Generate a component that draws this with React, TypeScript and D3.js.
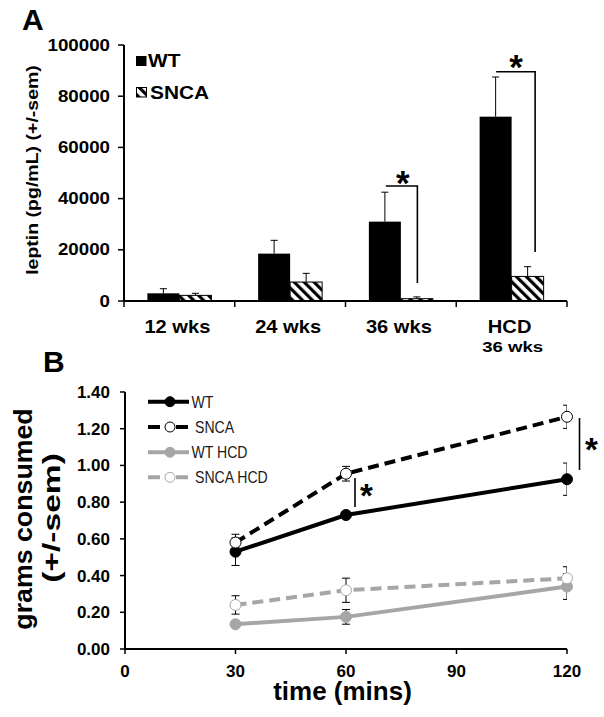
import React from "react";
import * as d3 from "d3";

// ---------- Panel A data ----------
const categoriesA = ["12 wks", "24 wks", "36 wks", "HCD"];
const wtLeptin = [3000, 18500, 31000, 72000];
const wtLeptinErr = [1800, 5200, 11500, 15500];
const sncaLeptin = [2200, 7400, 900, 9600];
const sncaLeptinErr = [800, 3400, 700, 3800];
const yTicksA = [0, 20000, 40000, 60000, 80000, 100000];

// ---------- Panel B data ----------
const timesB = [30, 60, 120];
const xTicksB = [0, 30, 60, 90, 120];
const yTicksB = [0, 0.2, 0.4, 0.6, 0.8, 1.0, 1.2, 1.4];
const wtB = [0.53, 0.73, 0.925];
const wtBErr = [0.075, 0.01, 0.088];
const sncaB = [0.58, 0.955, 1.265];
const sncaBErr = [0.045, 0.04, 0.063];
const wtHcdB = [0.135, 0.175, 0.34];
const wtHcdBErr = [0.01, 0.04, 0.07];
const sncaHcdB = [0.24, 0.32, 0.385];
const sncaHcdBErr = [0.05, 0.066, 0.063];

const FONT = "'Liberation Sans', Arial, sans-serif";

function T({ x, y, size, sx = 1, anchor = "start", rot = 0, weight = "bold", fill = "#000", family = FONT, children }: any) {
  return (
    <text
      transform={`translate(${x},${y}) rotate(${rot}) scale(${sx},1)`}
      fontSize={size}
      fontWeight={weight}
      fontFamily={family}
      textAnchor={anchor}
      fill={fill}
    >
      {children}
    </text>
  );
}

export default function App() {
  // Panel A scales
  const xA = d3.scaleBand<string>().domain(categoriesA).range([124, 567]).padding(0);
  const yA = d3.scaleLinear().domain([0, 100000]).range([301, 45]);
  const barW = 32;
  const cx = (c: string) => (xA(c) as number) + xA.bandwidth() / 2;

  // Panel B scales
  const xB = d3.scaleLinear().domain([0, 120]).range([125, 567]);
  const yB = d3.scaleLinear().domain([0, 1.4]).range([649, 392]);

  const seriesB = [
    { name: "WT", vals: wtB, err: wtBErr, color: "#000", dash: "none", open: false },
    { name: "SNCA", vals: sncaB, err: sncaBErr, color: "#000", dash: "11,6", open: true },
    { name: "WT HCD", vals: wtHcdB, err: wtHcdBErr, color: "#a6a6a6", dash: "none", open: false },
    { name: "SNCA HCD", vals: sncaHcdB, err: sncaHcdBErr, color: "#a6a6a6", dash: "11,6", open: true },
  ];
  const line = d3.line<[number, number]>().x((d) => xB(d[0])).y((d) => yB(d[1]));

  return (
    <svg width={604} height={717} style={{ position: "absolute", left: 0, top: 0, background: "#fff" }}>
      <defs>
        <pattern id="hatch" patternUnits="userSpaceOnUse" width={7} height={7} patternTransform="rotate(-45)">
          <rect width={7} height={7} fill="#fff" />
          <rect width={3.2} height={7} fill="#000" />
        </pattern>
        <clipPath id="clipB">
          <rect x={125} y={370} width={442} height={290} />
        </clipPath>
      </defs>
      <rect width={604} height={717} fill="#fff" />

      {/* ================= Panel A ================= */}
      <T x={22} y={30} size={30}>A</T>
      <T x={38} y={170} size={16} sx={1.22} rot={-90} anchor="middle">leptin (pg/mL) (+/-sem)</T>

      {/* y axis */}
      <line x1={124} x2={124} y1={yA(100000)} y2={yA(0)} stroke="#000" strokeWidth={2} />
      {yTicksA.map((t) => (
        <g key={t}>
          <line x1={118} x2={124} y1={yA(t)} y2={yA(t)} stroke="#000" strokeWidth={1.5} />
          <T x={110} y={yA(t) + 5.5} size={16} sx={1.17} anchor="end">{String(t)}</T>
        </g>
      ))}

      {/* bars */}
      {categoriesA.map((c, i) => {
        const c0 = cx(c);
        return (
          <g key={c}>
            <rect x={c0 - barW} y={yA(wtLeptin[i])} width={barW} height={yA(0) - yA(wtLeptin[i])} fill="#000" />
            <rect x={c0} y={yA(sncaLeptin[i])} width={barW} height={yA(0) - yA(sncaLeptin[i])} fill="url(#hatch)" stroke="#000" strokeWidth={1} />
            {/* error bars */}
            <line x1={c0 - barW / 2} x2={c0 - barW / 2} y1={yA(wtLeptin[i])} y2={yA(wtLeptin[i] + wtLeptinErr[i])} stroke="#000" strokeWidth={1} />
            <line x1={c0 - barW / 2 - 3.5} x2={c0 - barW / 2 + 3.5} y1={yA(wtLeptin[i] + wtLeptinErr[i])} y2={yA(wtLeptin[i] + wtLeptinErr[i])} stroke="#000" strokeWidth={1} />
            <line x1={c0 + barW / 2} x2={c0 + barW / 2} y1={yA(sncaLeptin[i])} y2={yA(sncaLeptin[i] + sncaLeptinErr[i])} stroke="#000" strokeWidth={1} />
            <line x1={c0 + barW / 2 - 3.5} x2={c0 + barW / 2 + 3.5} y1={yA(sncaLeptin[i] + sncaLeptinErr[i])} y2={yA(sncaLeptin[i] + sncaLeptinErr[i])} stroke="#000" strokeWidth={1} />
          </g>
        );
      })}

      {/* x axis */}
      <line x1={124} x2={567} y1={yA(0)} y2={yA(0)} stroke="#000" strokeWidth={2} />
      {[...categoriesA.map((c) => xA(c) as number), 567].map((x, i) => (
        <line key={i} x1={x} x2={x} y1={yA(0)} y2={yA(0) + 6} stroke="#000" strokeWidth={1.5} />
      ))}
      {categoriesA.map((c) => (
        <T key={c} x={cx(c) - 2} y={333} size={17.5} sx={1.15} anchor="middle">{c}</T>
      ))}
      <T x={cx("HCD") + 1} y={352} size={15.5} sx={1.2} anchor="middle">36 wks</T>

      {/* legend A */}
      <rect x={136} y={56} width={10.5} height={10} fill="#000" />
      <T x={148} y={66.5} size={18} sx={1.16}>WT</T>
      <rect x={136.5} y={87.5} width={10} height={9.5} fill="url(#hatch)" stroke="#000" strokeWidth={1} />
      <T x={150} y={99} size={18} sx={1.16}>SNCA</T>

      {/* significance A */}
      <path d={`M${cx("36 wks") - 15},186 H${cx("36 wks") + 16.5} V283`} fill="none" stroke="#000" strokeWidth={1.6} />
      <T x={cx("36 wks") + 2} y={195} size={35} anchor="middle">*</T>
      <path d={`M${cx("HCD") - 15.5},71.7 H${cx("HCD") + 23.5} V252`} fill="none" stroke="#000" strokeWidth={1.6} />
      <T x={cx("HCD") + 4.5} y={79} size={35} anchor="middle">*</T>

      {/* ================= Panel B ================= */}
      <T x={43} y={372} size={30}>B</T>
      <T x={32} y={519} size={25} sx={1.07} rot={-90} anchor="middle">grams consumed</T>
      <T x={60} y={518} size={24} sx={1.4} rot={-90} anchor="middle">(+/-sem)</T>

      <line x1={125} x2={125} y1={yB(1.4)} y2={yB(0)} stroke="#000" strokeWidth={2} />
      {yTicksB.map((t) => (
        <g key={t}>
          <line x1={120} x2={125} y1={yB(t)} y2={yB(t)} stroke="#000" strokeWidth={1.5} />
          <T x={110} y={yB(t) + 6} size={17} anchor="end">{t.toFixed(2)}</T>
        </g>
      ))}
      <line x1={125} x2={567} y1={yB(0)} y2={yB(0)} stroke="#000" strokeWidth={2} />
      {xTicksB.map((t) => (
        <g key={t}>
          <line x1={xB(t)} x2={xB(t)} y1={yB(0)} y2={yB(0) + 5} stroke="#000" strokeWidth={1.5} />
          <T x={xB(t)} y={677} size={17} anchor="middle">{String(t)}</T>
        </g>
      ))}
      <T x={342.5} y={700} size={25} sx={1.04} anchor="middle">time (mins)</T>

      {/* series lines */}
      {seriesB.map((s) => (
        <path key={s.name} d={line(timesB.map((t, i) => [t, s.vals[i]]) as any) as string} fill="none" stroke={s.color} strokeWidth={4} strokeDasharray={s.dash} />
      ))}
      {/* error bars */}
      <g clipPath="url(#clipB)">
        {seriesB.map((s) =>
          timesB.map((t, i) => {
            const x = xB(t);
            const y1 = yB(s.vals[i] + s.err[i]);
            const y2 = yB(s.vals[i] - s.err[i]);
            return (
              <g key={s.name + t}>
                <line x1={x} x2={x} y1={y1} y2={y2} stroke="#000" strokeWidth={1} />
                <line x1={x - 4} x2={x + 4} y1={y1} y2={y1} stroke="#000" strokeWidth={1} />
                <line x1={x - 4} x2={x + 4} y1={y2} y2={y2} stroke="#000" strokeWidth={1} />
              </g>
            );
          })
        )}
      </g>
      {/* markers */}
      {seriesB.map((s) =>
        timesB.map((t, i) => (
          <circle key={s.name + "m" + t} cx={xB(t)} cy={yB(s.vals[i])} r={5.5}
            fill={s.open ? "#fff" : s.color} stroke={s.color} strokeWidth={1} />
        ))
      )}

      {/* significance B */}
      <line x1={xB(60) + 9} x2={xB(60) + 9} y1={478} y2={507} stroke="#000" strokeWidth={1.6} />
      <T x={xB(60) + 20.5} y={507} size={33} anchor="middle">*</T>
      <line x1={xB(120) + 12.5} x2={xB(120) + 12.5} y1={418} y2={470} stroke="#000" strokeWidth={1.6} />
      <T x={xB(120) + 24.5} y={461} size={33} anchor="middle">*</T>

      {/* legend B */}
      {seriesB.map((s, i) => {
        const ly = [401.7, 427, 452.3, 477.3][i];
        return (
          <g key={s.name + "leg"}>
            <line x1={148} x2={189} y1={ly} y2={ly} stroke={s.color} strokeWidth={4} strokeDasharray={s.dash === "none" ? "none" : "12,8,4,4"} />
            <circle cx={170} cy={ly} r={5} fill={s.open ? "#fff" : s.color} stroke={s.color} strokeWidth={1} />
            <T x={i % 2 === 0 ? 191.5 : 195} y={ly + 6} size={16} sx={0.88} weight="normal" fill="#1a1a1a">{s.name}</T>
          </g>
        );
      })}
    </svg>
  );
}
